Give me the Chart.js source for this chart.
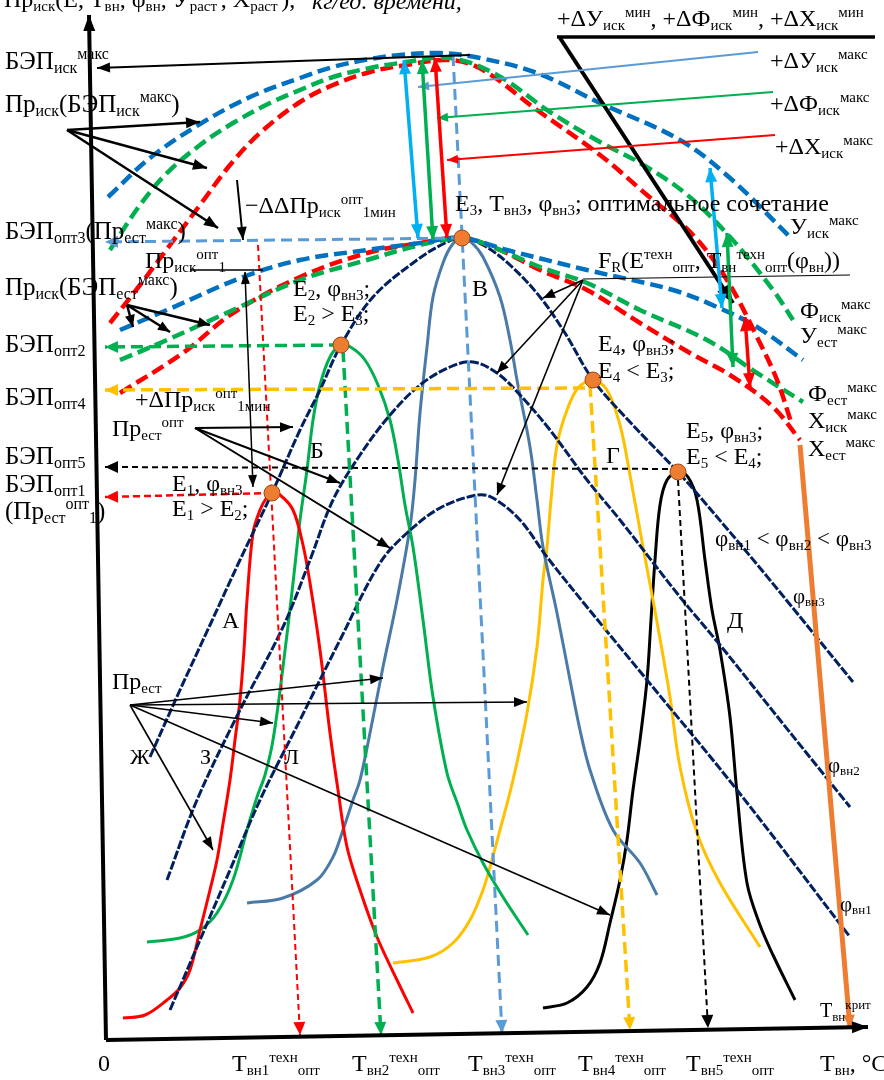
<!DOCTYPE html>
<html>
<head>
<meta charset="utf-8">
<script src="https://cdn.jsdelivr.net/npm/chart.js@4.4.1/dist/chart.umd.min.js"></script>
<style>
  html, body { margin: 0; padding: 0; background: #fff; }
  canvas { display: block; }
</style>
</head>
<body>
<canvas id="diagram" width="884" height="1080"></canvas>
<script>
// Envelope curves of the maximum values (искусственные / естественные)
const yIskMax = [[0.8,86.8],[5.0,90.7],[10.0,94.1],[15.0,96.8],[20.0,98.7],[23.3,99.8],[27.0,100.6],[30.0,101.0],[34.0,101.2],[38.0,100.7],[43.7,99.2],[50.0,96.2],[58.0,92.5],[63.0,88.7],[69.0,82.8]];
const fIskMax = [[1.0,81.5],[4.0,86.0],[6.7,89.2],[10.0,92.0],[13.3,94.2],[17.0,96.2],[20.0,97.5],[23.3,98.8],[27.0,99.7],[30.0,100.2],[35.0,100.7],[39.7,99.0],[45.0,95.3],[50.0,92.3],[54.0,90.2],[58.5,87.2],[63.0,82.8],[67.3,77.5],[69.3,74.5]];
const xIskMax = [[1.0,74.2],[4.0,78.0],[7.0,82.0],[10.0,86.0],[13.0,90.0],[16.0,93.2],[20.0,96.3],[23.3,98.0],[27.0,99.3],[30.0,99.9],[35.0,100.5],[38.3,99.5],[43.7,95.5],[50.0,91.0],[54.7,87.0],[59.3,83.0],[62.7,78.5],[65.7,72.8],[67.7,68.5],[69.2,64.0]];
const yEstMax = [[2.0,73.5],[6.7,75.5],[14.3,78.8],[20.0,80.5],[26.7,81.5],[32.0,82.2],[36.2,82.7],[40.7,81.5],[48.7,79.5],[57.3,77.5],[61.7,75.8],[65.7,73.8],[70.3,70.5]];
const fEstMax = [[2.0,70.5],[6.7,72.5],[13.3,75.5],[20.0,78.5],[26.7,80.5],[32.0,82.0],[36.2,82.7],[38.3,82.2],[44.0,79.8],[48.7,78.2],[54.0,75.5],[60.7,72.5],[65.7,69.2],[70.3,66.3]];
const xEstMax = [[2.0,67.2],[8.3,71.2],[13.3,75.2],[20.0,78.8],[26.7,81.2],[32.0,82.2],[36.2,82.7],[40.0,81.5],[44.0,79.5],[48.7,77.5],[54.0,74.2],[59.0,71.2],[63.0,69.0],[67.3,65.8],[70.0,62.5]];

// Productivity curves А..Д for E1..E5
const bellA = [[2.3,4.7],[4.5,5.0],[6.7,6.5],[8.0,7.7],[9.0,9.5],[10.0,13.5],[11.0,17.5],[11.7,20.5],[12.2,23.5],[13.0,28.5],[13.5,32.5],[14.0,36.5],[14.4,41.5],[14.7,46.5],[15.3,53.2],[16.0,55.5],[16.7,56.8],[17.2,57.2],[18.0,57.0],[19.3,55.5],[20.3,52.0],[21.0,48.2],[22.0,41.5],[23.0,33.2],[23.8,27.5],[24.7,21.8],[26.0,17.5],[27.7,12.8],[29.7,8.5],[31.3,5.2]];
const bellB = [[4.7,12.3],[8.0,12.7],[10.0,13.5],[11.7,15.2],[13.3,18.5],[14.7,23.5],[15.7,26.8],[16.5,29.0],[17.3,32.5],[18.3,39.8],[19.3,48.2],[20.0,54.5],[20.7,59.5],[21.3,64.5],[22.0,68.0],[23.0,70.8],[24.1,72.0],[25.2,71.7],[26.5,70.5],[27.8,68.0],[29.0,64.5],[29.8,60.5],[30.5,56.0],[31.3,51.8],[32.3,44.5],[33.3,36.8],[34.7,29.2],[35.8,26.0],[36.7,23.5],[38.3,20.2],[40.3,16.8],[42.8,13.0]];
const bellV = [[14.7,16.2],[18.3,16.7],[21.7,18.5],[23.3,20.8],[24.3,23.5],[25.3,26.5],[26.0,28.5],[27.0,33.2],[28.3,39.8],[29.7,46.5],[31.0,53.8],[31.5,58.5],[32.0,65.2],[32.7,71.8],[33.3,76.8],[34.3,80.2],[35.2,82.0],[36.2,82.7],[37.2,82.2],[38.3,80.8],[40.0,76.8],[41.0,72.5],[41.7,68.5],[43.0,61.8],[43.7,56.5],[44.3,51.8],[45.7,45.2],[47.0,38.5],[48.0,33.5],[49.0,29.5],[51.3,23.5],[54.0,20.2],[55.7,17.0]];
const bellG = [[29.3,10.2],[33.0,10.8],[35.3,12.2],[37.0,14.5],[38.3,17.5],[39.0,19.8],[40.0,23.5],[41.3,28.5],[42.7,35.2],[43.7,41.8],[44.3,48.5],[44.7,51.8],[45.1,56.5],[45.7,62.0],[46.7,65.5],[47.8,67.7],[49.3,68.5],[50.7,67.5],[52.0,64.0],[53.0,59.0],[54.3,51.8],[55.3,46.5],[56.2,41.5],[57.0,36.8],[58.0,29.8],[59.7,23.2],[62.0,18.2],[66.0,11.8]];
const bellD = [[44.3,5.7],[46.7,6.2],[48.7,7.8],[50.0,10.2],[51.0,14.2],[52.0,18.5],[52.7,22.5],[53.3,27.5],[54.0,32.5],[54.7,38.5],[55.1,44.5],[55.5,50.5],[56.0,56.0],[56.7,58.5],[57.8,59.3],[58.8,58.8],[59.7,56.5],[60.5,50.5],[61.2,45.5],[62.0,41.5],[63.0,34.8],[63.7,27.2],[64.7,18.2],[66.0,14.0],[67.3,11.0],[69.5,6.5]];

// Humidity curves φвн1 < φвн2 < φвн3
const phi3 = [[5.0,30.8],[8.0,37.5],[11.0,44.0],[14.0,50.5],[17.2,57.2],[20.0,63.5],[22.0,67.5],[24.1,72.0],[27.3,76.8],[31.7,80.5],[34.5,82.2],[36.2,82.7],[38.3,82.0],[41.0,80.0],[44.0,76.8],[46.5,73.2],[49.3,68.5],[53.0,64.3],[57.8,59.3],[60.0,56.8],[66.0,49.7],[75.3,38.3]];
const phi2 = [[6.7,18.5],[9.7,26.5],[14.0,35.5],[18.3,43.8],[21.0,50.5],[23.3,56.5],[26.0,61.0],[29.0,65.0],[32.0,68.0],[35.0,69.8],[37.3,70.3],[39.7,69.2],[42.0,67.0],[45.0,63.5],[48.7,58.5],[52.0,54.5],[58.0,46.8],[62.0,42.0],[68.0,34.5],[75.0,25.8]];
const phi1 = [[7.0,5.5],[10.0,12.5],[13.0,19.5],[16.0,26.5],[20.0,34.5],[24.0,42.5],[28.0,50.2],[30.7,53.2],[34.0,55.7],[37.7,57.0],[39.3,56.7],[42.0,54.5],[44.7,50.8],[48.7,45.8],[54.7,38.5],[63.7,27.5],[75.0,12.8]];

// Optimum points E1..E5
const peaks = [[17.2,57.2],[24.1,72.0],[36.2,82.7],[49.3,68.5],[57.8,59.3]];

// Projections of the optimum points onto the axes
const guideOpt3 = [[36.2,82.7],[0.5,82.3]];
const guideOpt2 = [[24.1,72.0],[0.5,71.8]];
const guideOpt4 = [[48.5,67.7],[0.5,67.5]];
const guideOpt5 = [[57.8,59.6],[0.5,59.8]];
const guideOpt1 = [[17.2,57.2],[0.5,56.8]];
const dropT1 = [[15.8,82.0],[20.0,3.0]];
const dropT2 = [[24.3,71.5],[28.1,3.0]];
const dropT3 = [[35.3,101.0],[40.2,3.2]];
const dropT4 = [[49.0,68.0],[53.0,3.5]];
const dropT5 = [[57.8,58.5],[60.8,3.7]];
const dropCrit = [[70.0,62.0],[75.0,3.7]];

// Axes
const axisY = [[0.6,2.5],[-1.1,105.0]];
const axisX = [[0.6,2.5],[76.8,3.8]];

// Pointer lines and fans
const leaderIskMax = [[37.0,101.0],[-0.3,99.7]];
const fanPrIskMax = { from: [-3.3,93.5], to: [[10.0,94.3],[10.7,89.7],[11.8,83.7]] };
const fanPrIskEst = { from: [2.7,76.0], to: [[3.3,73.8],[7.0,73.3],[11.0,74.0]] };
const fanPrEstOpt = { from: [9.5,63.7], to: [[19.3,63.8],[24.0,58.2],[29.0,51.7]] };
const fanPrEst = { from: [3.0,36.0], to: [[28.3,38.7],[17.3,34.2],[42.7,36.3],[11.3,21.5],[51.0,15.0]] };
const fanFR = { from: [48.3,78.5], to: [[44.3,76.7],[39.7,69.2],[39.7,57.0]] };
const ddArrow = [[13.7,88.5],[14.3,82.5]];
const prIskOpt1Line = [[9.0,79.5],[16.3,79.5]];
const prIskOpt1Span = [[14.5,79.3],[15.3,57.8]];
const frLine = [[48.3,78.6],[75.0,79.0]];
const minLine = [[45.7,102.8],[77.5,102.8]];
const minPointer = [[46.0,102.7],[63.3,76.2]];
const pointerY = [[65.8,101.3],[31.8,97.8]];
const pointerF = [[67.3,97.3],[33.7,94.7]];
const pointerX = [[67.5,93.0],[34.7,90.5]];
const gapYLeft = [[30.4,100.5],[31.8,82.7]];
const gapFLeft = [[32.2,100.5],[33.3,82.5]];
const gapXLeft = [[33.5,100.7],[34.7,82.7]];
const gapYRight = [[61.0,89.7],[62.2,75.7]];
const gapFRight = [[62.7,83.2],[63.3,69.8]];
const gapXRight = [[64.5,74.8],[65.0,67.8]];

const C = {
  blue: '#0070C0', green: '#00B050', red: '#FF0000', navy: '#002060',
  steel: '#4A7AA8', yellow: '#FFC000', orange: '#ED7D31', sky: '#5B9BD5', cyan: '#00B0F0'
};
const FONT = '"Liberation Serif", "Times New Roman", serif';

const pts = arr => arr.map(([x, y]) => ({ x, y }));
function curve(data, color, width, dash, order) {
  return {
    data: pts(data), showLine: true, borderColor: color, borderWidth: width,
    borderDash: dash || [], pointRadius: 0, fill: false, order: order || 3
  };
}
function guide(data, color, width, dash) {
  const d = curve(data, color, width, dash, 2);
  d.tension = 0;
  d.arrowHead = true;
  return d;
}

const datasets = [
  curve(yIskMax, C.blue, 4.5, [13, 6]),
  curve(fIskMax, C.green, 4.5, [13, 6]),
  curve(xIskMax, C.red, 4.5, [13, 6]),
  curve(yEstMax, C.blue, 4.5, [13, 6]),
  curve(fEstMax, C.green, 4.5, [13, 6]),
  curve(xEstMax, C.red, 4.5, [13, 6]),
  curve(phi3, C.navy, 3, [9, 2]),
  curve(phi2, C.navy, 3, [9, 2]),
  curve(phi1, C.navy, 3, [9, 2]),
  curve(bellA, C.red, 3),
  curve(bellB, C.green, 3),
  curve(bellV, C.steel, 3),
  curve(bellG, C.yellow, 3),
  curve(bellD, '#000', 3),
  guide(guideOpt3, C.sky, 3, [11, 6]),
  guide(guideOpt2, C.green, 3.5, [12, 6]),
  guide(guideOpt4, C.yellow, 3.5, [12, 6]),
  guide(guideOpt5, '#000', 2, [6, 4]),
  guide(guideOpt1, C.red, 2.5, [7, 4]),
  guide(dropT1, C.red, 2, [6, 4]),
  guide(dropT2, C.green, 3.5, [12, 6]),
  guide(dropT3, C.sky, 3, [11, 6]),
  guide(dropT4, C.yellow, 3.5, [12, 6]),
  guide(dropT5, '#000', 2, [6, 4]),
  guide(dropCrit, C.orange, 5, []),
  {
    data: pts(peaks), showLine: false, pointRadius: 8, pointHoverRadius: 8,
    backgroundColor: C.orange, borderColor: '#9C4A14', borderWidth: 1, order: 0
  }
];

// Labels: text with _{sub} and ^{sup}, left x / middle y in chart units, font size
const labels = [
  ['Пр_{иск}(Е, Т_{вн}, φ_{вн}, У_{раст}^{ }, Х_{раст}^{ }),', -9.6, 106.4, 24],
  ['БЭП_{иск}^{макс}', -9.5, 100.3, 25],
  ['Пр_{иск}(БЭП_{иск}^{макс})', -9.5, 96.0, 25],
  ['БЭП_{опт3}(Пр_{ест}^{макс})', -9.5, 83.3, 25],
  ['Пр_{иск}^{опт}_{1}', 4.5, 80.3, 24],
  ['Пр_{иск}(БЭП_{ест}^{макс})', -9.5, 77.7, 25],
  ['БЭП_{опт2}', -9.5, 72.0, 25],
  ['БЭП_{опт4}', -9.5, 66.7, 25],
  ['+ΔПр_{иск}^{опт}_{1мин}', 3.5, 66.4, 24],
  ['Пр_{ест}^{опт}', 1.2, 63.5, 24],
  ['БЭП_{опт5}', -9.5, 60.8, 25],
  ['БЭП_{опт1}', -9.5, 58.0, 25],
  ['(Пр_{ест}^{опт}_{1})', -9.5, 55.3, 25],
  ['−ΔΔПр_{иск}^{опт}_{1мин}', 14.5, 85.8, 24],
  ['E_{1}, φ_{вн3}', 7.2, 58.0, 24],
  ['E_{1} > E_{2};', 7.2, 55.5, 24],
  ['E_{2}, φ_{вн3};', 19.3, 77.5, 24],
  ['E_{2} > E_{3};', 19.3, 75.0, 24],
  ['E_{3}, T_{вн3}, φ_{вн3}; оптимальное сочетание', 35.5, 86.0, 24],
  ['F_{R}(E^{техн}_{опт}, T_{вн}^{техн}_{опт}(φ_{вн}))', 49.8, 80.3, 24],
  ['E_{4}, φ_{вн3};', 49.8, 72.0, 24],
  ['E_{4} < E_{3};', 49.8, 69.3, 24],
  ['E_{5}, φ_{вн3};', 58.6, 63.3, 24],
  ['E_{5} < E_{4};', 58.6, 60.7, 24],
  ['φ_{вн1} < φ_{вн2} < φ_{вн3}', 61.5, 52.5, 23],
  ['φ_{вн3}', 69.3, 46.8, 21],
  ['φ_{вн2}', 72.8, 29.9, 21],
  ['φ_{вн1}', 74.0, 16.0, 21],
  ['А', 12.2, 44.3, 24], ['Б', 21.0, 61.3, 24], ['В', 37.2, 77.5, 24],
  ['Г', 50.6, 60.8, 24], ['Д', 62.7, 44.3, 24],
  ['Ж', 3.0, 30.7, 22], ['З', 10.0, 30.7, 22], ['Л', 18.4, 30.7, 22],
  ['Пр_{ест}', 1.2, 38.2, 24],
  ['+ΔУ_{иск}^{мин}, +ΔФ_{иск}^{мин}, +ΔХ_{иск}^{мин}', 45.7, 104.5, 24],
  ['+ΔУ_{иск}^{макс}', 67.0, 100.3, 24],
  ['+ΔФ_{иск}^{макс}', 67.0, 96.0, 24],
  ['+ΔХ_{иск}^{макс}', 67.5, 91.7, 24],
  ['У_{иск}^{макс}', 69.0, 83.7, 24],
  ['Ф_{иск}^{макс}', 70.0, 75.3, 24],
  ['У_{ест}^{макс}', 70.0, 72.8, 24],
  ['Ф_{ест}^{макс}', 70.8, 67.0, 24],
  ['Х_{иск}^{макс}', 70.8, 64.3, 24],
  ['Х_{ест}^{макс}', 70.8, 61.5, 24],
  ['Т_{вн}^{крит}', 72.0, 5.3, 20],
  ['0', -0.2, 0.0, 24],
  ['Т_{вн1}^{техн}_{опт}', 13.2, 0.0, 24],
  ['Т_{вн2}^{техн}_{опт}', 25.2, 0.0, 24],
  ['Т_{вн3}^{техн}_{опт}', 36.8, 0.0, 24],
  ['Т_{вн4}^{техн}_{опт}', 47.8, 0.0, 24],
  ['Т_{вн5}^{техн}_{опт}', 58.6, 0.0, 24],
  ['Т_{вн}, °C', 72.0, 0.0, 24]
];

function richText(ctx, str, x, y, size, italic) {
  const parts = str.match(/[_^]\{[^}]*\}|[^_^]+/g) || [];
  let cx = x;
  ctx.textBaseline = 'middle';
  ctx.textAlign = 'left';
  for (const p of parts) {
    let txt = p, s = size, dy = 0;
    if (p[0] === '_' || p[0] === '^') {
      txt = p.slice(2, -1);
      s = Math.round(size * 0.64);
      dy = p[0] === '_' ? size * 0.26 : -size * 0.3;
    }
    ctx.font = (italic ? 'italic ' : '') + s + 'px ' + FONT;
    ctx.fillText(txt, cx, y + dy);
    cx += ctx.measureText(txt).width;
  }
}

function head(ctx, x1, y1, x2, y2, len, wid) {
  const a = Math.atan2(y2 - y1, x2 - x1);
  const c = Math.cos(a), s = Math.sin(a);
  ctx.beginPath();
  ctx.moveTo(x2, y2);
  ctx.lineTo(x2 - len * c + wid * s, y2 - len * s - wid * c);
  ctx.lineTo(x2 - len * c - wid * s, y2 - len * s + wid * c);
  ctx.closePath();
  ctx.fill();
}

const overlay = {
  id: 'overlay',
  afterDatasetsDraw(chart) {
    const { ctx, scales: { x, y } } = chart;
    const P = ([a, b]) => [x.getPixelForValue(a), y.getPixelForValue(b)];

    function line(seg, color, width, ends, len, wid) {
      const [x1, y1] = P(seg[0]), [x2, y2] = P(seg[1]);
      ctx.save();
      ctx.strokeStyle = color; ctx.fillStyle = color; ctx.lineWidth = width;
      ctx.beginPath(); ctx.moveTo(x1, y1); ctx.lineTo(x2, y2); ctx.stroke();
      if (ends === 'end' || ends === 'both') head(ctx, x1, y1, x2, y2, len || 11, wid || 4.5);
      if (ends === 'both') head(ctx, x2, y2, x1, y1, len || 11, wid || 4.5);
      ctx.restore();
    }
    function fan(f, width, len, wid) {
      f.to.forEach(t => line([f.from, t], '#000', width, 'end', len, wid));
    }

    // arrowheads of the dashed projections
    chart.data.datasets.forEach(ds => {
      if (!ds.arrowHead) return;
      const d = ds.data;
      const [x1, y1] = P([d[0].x, d[0].y]), [x2, y2] = P([d[1].x, d[1].y]);
      ctx.save();
      ctx.fillStyle = ds.borderColor;
      head(ctx, x1, y1, x2, y2, 13, 6);
      ctx.restore();
    });

    line(axisY, '#000', 4, 'end', 16, 6);
    line(axisX, '#000', 4, 'end', 16, 6);

    line(leaderIskMax, '#000', 2, 'end', 13, 5);
    fan(fanPrIskMax, 2.5, 14, 5.5);
    fan(fanPrIskEst, 2.5, 12, 5);
    fan(fanPrEstOpt, 2, 13, 5);
    fan(fanPrEst, 1.6, 13, 5);
    fan(fanFR, 1.6, 12, 5);
    line(ddArrow, '#000', 2, 'end', 13, 5);
    line(prIskOpt1Line, '#000', 1.5, 'none');
    line(prIskOpt1Span, '#000', 1.5, 'both', 12, 4.5);
    line(frLine, '#000', 1.2, 'none');
    line(minLine, '#000', 3.5, 'none');
    line(minPointer, '#000', 4, 'end', 18, 7);
    line(pointerY, C.sky, 2, 'end', 11, 4.5);
    line(pointerF, C.green, 2, 'end', 11, 4.5);
    line(pointerX, C.red, 2, 'end', 11, 4.5);
    line(gapYLeft, C.cyan, 3.5, 'both', 14, 6);
    line(gapFLeft, C.green, 3.5, 'both', 14, 6);
    line(gapXLeft, C.red, 3.5, 'both', 14, 6);
    line(gapYRight, C.cyan, 3.5, 'both', 14, 6);
    line(gapFRight, C.green, 3.5, 'both', 14, 6);
    line(gapXRight, C.red, 3.5, 'both', 14, 6);

    ctx.save();
    ctx.fillStyle = '#000';
    labels.forEach(([t, lx, ly, size]) => {
      const [px, py] = P([lx, ly]);
      richText(ctx, t, px, py, size, false);
    });
    const [kx, ky] = P([21.2, 106.2]);
    richText(ctx, 'кг/ед. времени,', kx, ky, 24, true);
    ctx.restore();
  }
};

new Chart(document.getElementById('diagram'), {
  type: 'scatter',
  data: { datasets },
  options: {
    responsive: false,
    animation: false,
    layout: { padding: 0, autoPadding: false },
    elements: { line: { tension: 0.35, borderCapStyle: 'butt' } },
    plugins: { legend: { display: false }, tooltip: { enabled: false } },
    scales: {
      x: { type: 'linear', min: -10, max: 78.4, display: false },
      y: { type: 'linear', min: -1.5, max: 106.5, display: false }
    }
  },
  plugins: [overlay]
});
</script>
</body>
</html>
